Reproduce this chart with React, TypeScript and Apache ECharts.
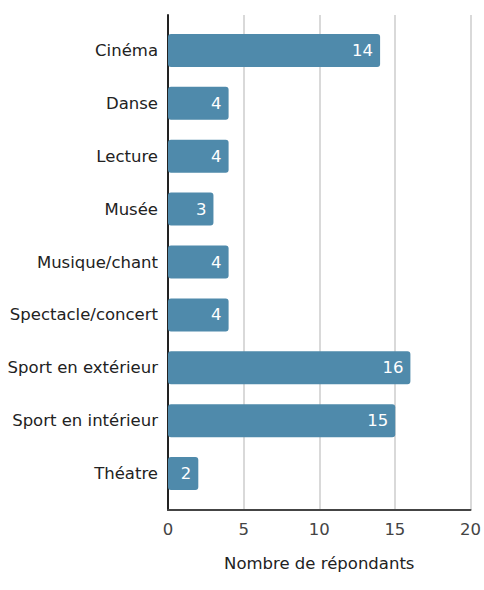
import React, { useEffect, useRef } from "react";
import * as echarts from "echarts";

const categories = [
  "Cinéma",
  "Danse",
  "Lecture",
  "Musée",
  "Musique/chant",
  "Spectacle/concert",
  "Sport en extérieur",
  "Sport en intérieur",
  "Théatre",
];
const values = [14, 4, 4, 3, 4, 4, 16, 15, 2];
const axisMin = 0;
const axisMax = 20;
const axisInterval = 5;
const axisName = "Nombre de répondants";

const FONT = "DejaVu Sans";

export default function App() {
  const ref = useRef<HTMLDivElement>(null);
  useEffect(() => {
    if (!ref.current) return;
    const chart = echarts.init(ref.current, undefined, { renderer: "svg" });
    chart.setOption({
      animation: false,
      backgroundColor: "#ffffff",
      textStyle: { fontFamily: FONT },
      grid: [
        { left: 168, right: 13, top: 24, bottom: 90 },
        { left: 168, right: 13, top: 15, bottom: 80 },
      ],
      xAxis: [
        { type: "value", gridIndex: 0, min: axisMin, max: axisMax, show: false },
        {
          type: "value",
          gridIndex: 1,
          min: axisMin,
          max: axisMax,
          interval: axisInterval,
          axisLine: { show: true, lineStyle: { color: "#444", width: 2 } },
          axisTick: { show: false },
          splitLine: { show: true, lineStyle: { color: "#cccccc", width: 1.5 } },
          axisLabel: { color: "#444", fontSize: 16.5, margin: 11, fontFamily: FONT },
          name: axisName,
          nameLocation: "middle",
          nameGap: 45,
          nameTextStyle: { color: "#222", fontSize: 16.5, fontFamily: FONT },
        },
      ],
      yAxis: [
        {
          type: "category",
          gridIndex: 0,
          data: categories,
          inverse: true,
          axisLine: { show: false },
          axisTick: { show: false },
          axisLabel: { color: "#222", fontSize: 16.5, margin: 10, fontFamily: FONT },
        },
        {
          type: "value",
          gridIndex: 1,
          min: 0,
          max: 1,
          axisLine: { show: true, lineStyle: { color: "#222", width: 2 } },
          axisTick: { show: false },
          axisLabel: { show: false },
          splitLine: { show: false },
        },
      ],
      series: [
        {
          type: "bar",
          xAxisIndex: 0,
          yAxisIndex: 0,
          data: values,
          barWidth: 33,
          itemStyle: { color: "#4f8aab", borderRadius: 3 },
          label: {
            show: true,
            position: "insideRight",
            distance: 7,
            color: "#ffffff",
            fontSize: 16.5,
            fontFamily: FONT,
          },
        },
      ],
    });
    return () => chart.dispose();
  }, []);
  return (
    <div
      ref={ref}
      style={{ position: "fixed", left: 0, top: 0, width: 484, height: 590 }}
    />
  );
}
